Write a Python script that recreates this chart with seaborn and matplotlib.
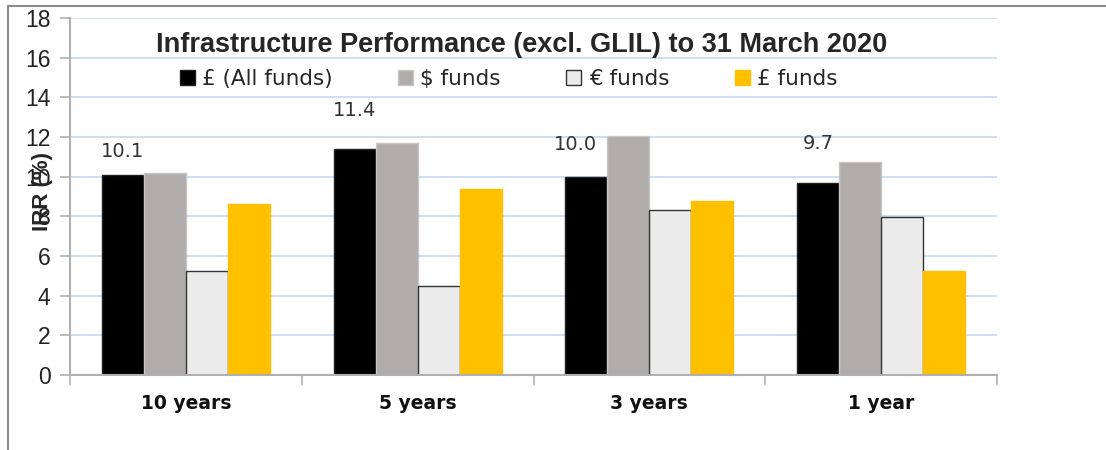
import matplotlib
matplotlib.use("Agg")
import matplotlib.pyplot as plt
from matplotlib.lines import Line2D
from matplotlib.patches import Patch
import seaborn as sns
import pandas as pd

# values
periods = ["10 years", "5 years", "3 years", "1 year"]
series = ["£ (All funds)", "$ funds", "€ funds", "£ funds"]
all_funds = [10.1, 11.4, 10.0, 9.7]
usd_funds = [10.2, 11.7, 12.05, 10.75]
eur_funds = [5.25, 4.5, 8.3, 7.95]
gbp_funds = [8.6, 9.4, 8.75, 5.25]

colors = ["#000000", "#b0acab", "#ebebeb", "#ffc000"]
edges = ["#222222", "#c8c6c5", "#333333", "#ffc000"]

rows = []
for name, vals in zip(series, [all_funds, usd_funds, eur_funds, gbp_funds]):
    for p, v in zip(periods, vals):
        rows.append({"period": p, "series": name, "irr": v})
df = pd.DataFrame(rows)

sns.set_style("white")
plt.rcParams["font.family"] = ["Liberation Sans", "DejaVu Sans"]

fig = plt.figure(figsize=(11.06, 4.5), dpi=100)
ax = fig.add_axes([70 / 1106, 75 / 450, 927 / 1106, 357 / 450])

sns.barplot(data=df, x="period", y="irr", hue="series", hue_order=series,
            order=periods, palette=colors, width=0.725, gap=0, ax=ax,
            saturation=1, legend=False)

for cont, ec in zip(ax.containers, edges):
    for bar in cont:
        bar.set_edgecolor(ec)
        bar.set_linewidth(1.0)

ax.set_ylim(0, 18)
ax.set_xlim(-0.5, 3.5)
ax.set_yticks(range(0, 19, 2))
ax.yaxis.grid(True, color="#c9dbf2", lw=1.3)
ax.set_axisbelow(True)
for s in ["top", "right"]:
    ax.spines[s].set_visible(False)
for s in ["left", "bottom"]:
    ax.spines[s].set_color("#b0b0b0")
    ax.spines[s].set_linewidth(1.5)

ax.tick_params(axis="y", left=True, length=7, width=1.2, color="#b0b0b0",
               labelsize=16.5, pad=7, labelcolor="#222222")
ax.set_xticks([-0.5, 0.5, 1.5, 2.5, 3.5], minor=True)
ax.tick_params(axis="x", which="minor", bottom=True, length=7, width=1.2,
               color="#b0b0b0")
ax.tick_params(axis="x", which="major", length=0, pad=14)
ax.set_xticklabels(periods, fontfamily="DejaVu Sans", fontweight="bold",
                   fontsize=13.5, color="#111111")
ax.set_xlabel("")
ax.set_ylabel("IRR (%)", fontsize=16, fontweight="bold")
ax.yaxis.set_label_coords(-0.018, 0.515)

# data labels for the "All funds" series, offsets as in the original
label_offsets = [(0, 17), (0, 28), (-8, 23), (0, 28)]
for bar, v, off in zip(ax.containers[0], all_funds, label_offsets):
    ax.annotate(f"{v:.1f}", (bar.get_x() + bar.get_width() / 2, v),
                xytext=off, textcoords="offset points", ha="center",
                va="center", fontfamily="DejaVu Sans", fontsize=14,
                color="#333333")

ax.text(0.4876, 0.925, "Infrastructure Performance (excl. GLIL) to 31 March 2020",
        transform=ax.transAxes, ha="center", va="center", fontsize=19.5,
        fontweight="bold")

handles = [Patch(facecolor=c, edgecolor=e, lw=1) for c, e in zip(colors, edges)]
ax.legend(handles, series, loc="center", bbox_to_anchor=(0.473, 0.83),
          ncol=4, frameon=False, prop={"family": "DejaVu Sans", "size": 15.5},
          handlelength=0.7, handleheight=0.7, handletextpad=0.33,
          columnspacing=3.05)

# outer frame (top and left only visible)
fig.add_artist(Line2D([8 / 1106, 1], [1 - 6 / 450, 1 - 6 / 450],
                      transform=fig.transFigure, color="#8c8c8c", lw=1.5))
fig.add_artist(Line2D([8 / 1106, 8 / 1106], [0, 1 - 6 / 450],
                      transform=fig.transFigure, color="#8c8c8c", lw=1.5))

fig.savefig("out.png", dpi=100)
